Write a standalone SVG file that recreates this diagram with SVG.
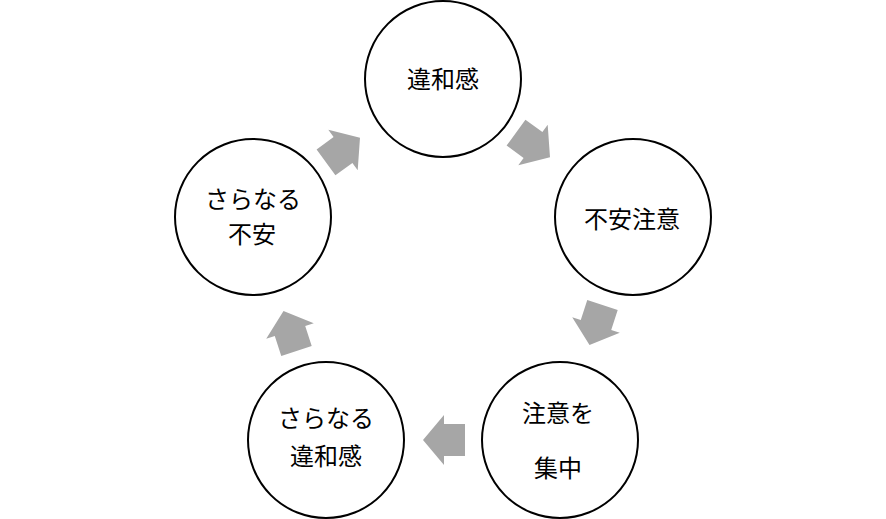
<svg xmlns="http://www.w3.org/2000/svg" width="886" height="519" viewBox="0 0 886 519">
<defs>
<style>
.node circle{fill:#fff;stroke:#000;stroke-width:2}
.node text{font-family:"Noto Sans CJK JP","Noto Sans CJK SC",sans-serif;font-size:24px;fill:#000;text-anchor:middle;dominant-baseline:central}
.arrow{fill:#a6a6a6}
</style>
<polygon id="blk" points="-21,-16 0,-16 0,-25 21,0 0,25 0,16 -21,16"/>
</defs>
<rect width="886" height="519" fill="#fff"/>
<g id="connectors">
<use href="#blk" class="arrow" transform="translate(533,145) rotate(36)"/>
<use href="#blk" class="arrow" transform="translate(596,325) rotate(108)"/>
<use href="#blk" class="arrow" transform="translate(444,440) rotate(180)"/>
<use href="#blk" class="arrow" transform="translate(290,331) rotate(-108)"/>
<use href="#blk" class="arrow" transform="translate(343,150) rotate(-36)"/>
</g>
<g id="n1" class="node"><circle cx="443" cy="79" r="78"/><text x="443" y="77">違和感</text></g>
<g id="n2" class="node"><circle cx="633" cy="217" r="78"/><text x="632" y="217">不安注意</text></g>
<g id="n3" class="node"><circle cx="560" cy="440" r="78"/><text x="558" y="411">注意を</text><text x="558" y="466">集中</text></g>
<g id="n4" class="node"><circle cx="326" cy="440" r="78"/><text x="326" y="416">さらなる</text><text x="326" y="454">違和感</text></g>
<g id="n5" class="node"><circle cx="253" cy="217" r="78"/><text x="253" y="197">さらなる</text><text x="252" y="232">不安</text></g>
</svg>
